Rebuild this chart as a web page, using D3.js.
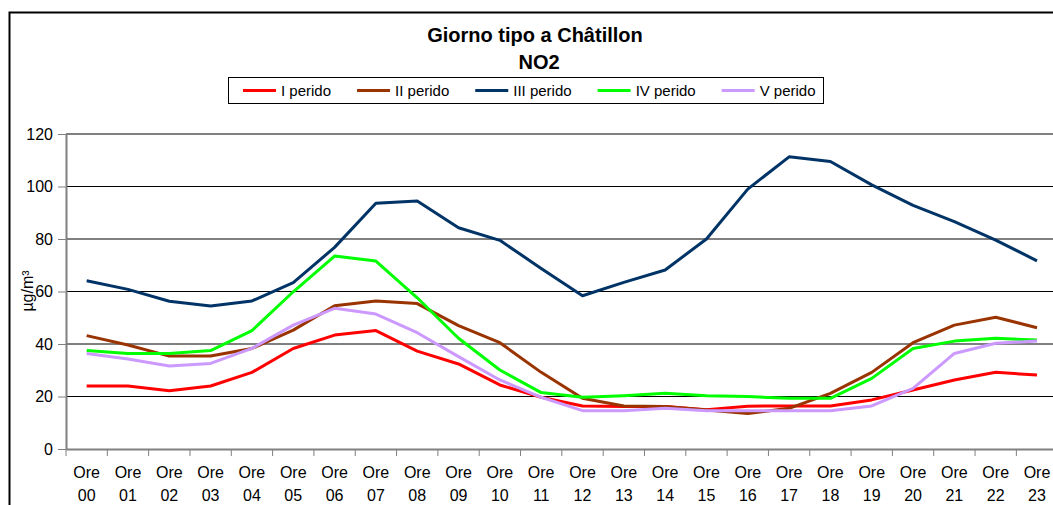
<!DOCTYPE html>
<html>
<head>
<meta charset="utf-8">
<script src="https://cdn.jsdelivr.net/npm/d3@7"></script>
<style>
  body { margin: 0; background: #fff; }
  svg { display: block; font-family: "Liberation Sans", Arial, sans-serif; }
</style>
</head>
<body>
<div id="chart"></div>
<script>
const ore = ['00','01','02','03','04','05','06','07','08','09','10','11',
             '12','13','14','15','16','17','18','19','20','21','22','23'];
const periodoI   = [24, 24, 22.2, 24, 29.2, 38.3, 43.4, 45.1, 37.3, 32.4, 24.4, 19.7, 16.4, 16.2, 16.2, 15, 16.3, 16.4, 16.4, 18.7, 22.5, 26.3, 29.2, 28.2];
const periodoII  = [43.2, 39.6, 35.4, 35.4, 38.3, 45.3, 54.6, 56.4, 55.4, 47, 40.5, 29.2, 19.3, 16.4, 16.2, 14.9, 13.5, 15.5, 21.2, 29.2, 40.5, 47.2, 50.2, 46.2];
const periodoIII = [64.1, 60.8, 56.3, 54.5, 56.4, 63.4, 76.8, 93.6, 94.5, 84.3, 79.5, 68.8, 58.4, 63.5, 68.2, 80, 99, 111.3, 109.5, 100.6, 92.8, 86.6, 79.6, 71.7];
const periodoIV  = [37.5, 36.4, 36.4, 37.5, 45.1, 59.9, 73.5, 71.6, 57.6, 42.2, 30.1, 21.5, 19.7, 20.3, 21.2, 20.3, 20, 19.3, 19.3, 26.9, 38.3, 41.1, 42.2, 41.5];
const periodoV   = [36.4, 34.3, 31.6, 32.6, 38.3, 47.2, 53.6, 51.4, 44.3, 35.2, 26.3, 19.7, 14.6, 14.6, 15.5, 14.6, 14.6, 14.6, 14.6, 16.4, 23.1, 36.4, 40.3, 41.1];
const nomi   = ['I perido', 'II perido', 'III perido', 'IV perido', 'V perido'];
const colori = ['#ff0000', '#993300', '#003366', '#00ff00', '#cc99ff'];
const yTicks = [0, 20, 40, 60, 80, 100, 120];

const largura = 1053, altura = 505;
const serie = [periodoI, periodoII, periodoIII, periodoIV, periodoV];

const svg = d3.select('#chart')
    .append('svg')
    .attr('width', largura)
    .attr('height', altura);

// cornice esterna (tagliata a destra e in basso)
svg.append('rect')
    .attr('x', 9.5).attr('y', 12.5)
    .attr('width', largura + 20).attr('height', altura + 20)
    .attr('fill', '#fff')
    .attr('stroke', '#000')
    .attr('stroke-width', 2);

// titolo
svg.append('text')
    .attr('x', 535).attr('y', 42)
    .attr('text-anchor', 'middle')
    .attr('font-size', 20).attr('font-weight', 'bold')
    .text('Giorno tipo a Châtillon');
svg.append('text')
    .attr('x', 539).attr('y', 69)
    .attr('text-anchor', 'middle')
    .attr('font-size', 20).attr('font-weight', 'bold')
    .text('NO2');

const x = d3.scaleBand()
    .domain(ore)
    .range([66, 66 + 24 * 41.32]);
const y = d3.scaleLinear()
    .domain([0, 120])
    .range([449, 134]);

// griglia
svg.append('g')
    .selectAll('line')
    .data(yTicks.filter(d => d > 0))
    .enter()
    .append('line')
    .attr('x1', 66).attr('x2', largura)
    .attr('y1', d => y(d)).attr('y2', d => y(d))
    .attr('stroke', '#000')
    .attr('stroke-width', 1);

// asse y
const assey = svg.append('g')
    .attr('transform', 'translate(66,0)')
    .call(d3.axisLeft(y).tickValues(yTicks).tickSize(8).tickPadding(5).tickSizeOuter(0));
assey.select('.domain').attr('stroke', '#808080').attr('stroke-width', 2);
assey.selectAll('.tick line').attr('stroke', '#808080');
assey.selectAll('.tick text')
    .attr('font-size', 16).attr('fill', '#000')
    .attr('font-family', '"Liberation Sans", Arial, sans-serif');

// asse x
const assex = svg.append('g')
    .attr('transform', 'translate(0,449)')
    .call(d3.axisBottom(x).tickSize(0).tickFormat(''));
assex.select('.domain').attr('stroke', '#808080').attr('stroke-width', 2);
svg.append('g')
    .selectAll('line')
    .data(ore)
    .enter()
    .append('line')
    .attr('x1', d => x(d)).attr('x2', d => x(d))
    .attr('y1', 449).attr('y2', 456)
    .attr('stroke', '#808080');
const etichette = svg.append('g')
    .selectAll('text')
    .data(ore)
    .enter()
    .append('text')
    .attr('text-anchor', 'middle')
    .attr('font-size', 16)
    .attr('x', d => x(d) + x.bandwidth() / 2);
etichette.append('tspan').attr('x', d => x(d) + x.bandwidth() / 2).attr('y', 478).text('Ore');
etichette.append('tspan').attr('x', d => x(d) + x.bandwidth() / 2).attr('y', 501).text(d => d);

// titolo asse y
svg.append('text')
    .attr('transform', 'translate(33,291) rotate(-90)')
    .attr('text-anchor', 'middle')
    .attr('font-size', 16)
    .text('µg/m³');

// linee
const linea = d3.line()
    .x((d, i) => x(ore[i]) + x.bandwidth() / 2)
    .y(d => y(d));
svg.append('g')
    .selectAll('path')
    .data(serie)
    .enter()
    .append('path')
    .attr('d', linea)
    .attr('fill', 'none')
    .attr('stroke', (d, i) => colori[i])
    .attr('stroke-width', 3)
    .attr('stroke-linejoin', 'round');

// legenda
const legenda = svg.append('g');
legenda.append('rect')
    .attr('x', 228.5).attr('y', 77.5)
    .attr('width', 595).attr('height', 26)
    .attr('fill', '#fff').attr('stroke', '#000');
let lx = 243;
nomi.forEach((nome, i) => {
    legenda.append('line')
        .attr('x1', lx).attr('x2', lx + 33)
        .attr('y1', 90.5).attr('y2', 90.5)
        .attr('stroke', colori[i]).attr('stroke-width', 3);
    const t = legenda.append('text')
        .attr('x', lx + 38).attr('y', 96)
        .attr('font-size', 15)
        .text(nome);
    lx += 38 + t.node().getComputedTextLength() + 26;
});
</script>
</body>
</html>
